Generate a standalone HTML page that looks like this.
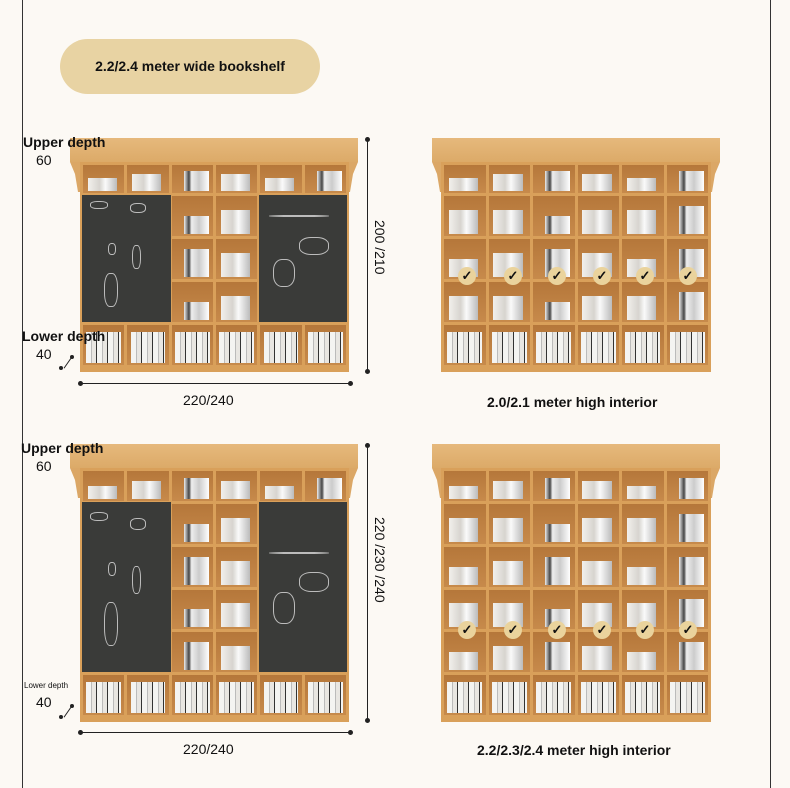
<!DOCTYPE html>
<html><head><meta charset="utf-8"><style>
*{margin:0;padding:0;box-sizing:border-box}
body{width:790px;height:788px;background:#fcf9f4;position:relative;overflow:hidden;font-family:"Liberation Sans",sans-serif;color:#111}
.vl{position:absolute;top:0;width:1px;height:788px;background:#333}
.pill{position:absolute;left:60px;top:39px;width:260px;height:55px;border-radius:28px;background:#e8d3a3;font-weight:bold;font-size:14px;line-height:55px;text-align:center}
.t{position:absolute;font-size:14px;white-space:nowrap}
.b{font-weight:bold}
.crown{position:absolute;height:24px;background:linear-gradient(#e6b97c,#dcaa68);}
.body{position:absolute;display:grid;grid-template-columns:repeat(6,1fr);gap:3px;padding:3px 3px 7px 3px;background:#d9a05a}
.body b{display:block;background:linear-gradient(#b5773a,#c78a4b);position:relative;overflow:hidden}
.body b::after{content:"";position:absolute;left:12%;right:18%;bottom:2px;height:60%;background:linear-gradient(90deg,#f2f0ec,#d7d4cf 40%,#fafafa 60%,#bbb);}
.body b:nth-child(3n)::after{left:30%;right:10%;height:70%;background:linear-gradient(90deg,#eee,#444 20%,#eee 30%,#ccc 60%,#fff)}
.body b:nth-child(4n+1)::after{height:45%}
.body b:nth-last-child(-n+6)::after{left:8%;right:8%;height:78%;background:repeating-linear-gradient(90deg,#f4f4f2 0 5px,#bbb 5px 6px,#e8e6e2 6px 10px,#333 10px 11px)}
.chalk{position:absolute;background:#3a3b39}
.chalk i{position:absolute;border:1px solid #ddd;border-radius:40%;opacity:.8}
.crown::before,.crown::after{content:"";position:absolute;top:24px;width:10px;height:30px;background:#dba766}
.crown::before{left:0;clip-path:polygon(0 0,100% 0,100% 100%,80% 100%,50% 40%)}
.crown::after{right:0;clip-path:polygon(0 0,100% 0,50% 40%,20% 100%,0 100%)}
.dl{position:absolute;background:#222}
.dot{position:absolute;width:5px;height:5px;border-radius:50%;background:#222}
.ck{position:absolute;width:18px;height:18px;border-radius:50%;background:#ead39c;font-size:13px;line-height:18px;text-align:center;font-weight:bold;color:#111}
.rot{position:absolute;transform:rotate(90deg);transform-origin:left top;font-size:14px;white-space:nowrap}
</style></head><body>
<div class="vl" style="left:22px"></div><div class="vl" style="left:770px"></div>
<div class="pill">2.2/2.4 meter wide bookshelf</div>

<div class="crown" style="left:70px;top:138px;width:288px"></div>
<div class="body" style="left:80px;top:162px;width:269px;height:210px;grid-template-rows:28px 1fr 1fr 1fr 40px">
<b></b><b></b><b></b><b></b><b></b><b></b><b></b><b></b><b></b><b></b><b></b><b></b><b></b><b></b><b></b><b></b><b></b><b></b><b></b><b></b><b></b><b></b><b></b><b></b><b></b><b></b><b></b><b></b><b></b><b></b></div>
<div class="chalk" style="left:82px;top:195px;width:89px;height:127px"><i style="left:8px;top:6px;width:18px;height:8px"></i><i style="left:48px;top:8px;width:16px;height:10px"></i><i style="left:26px;top:48px;width:8px;height:12px"></i><i style="left:50px;top:50px;width:9px;height:24px"></i><i style="left:22px;top:78px;width:14px;height:34px"></i></div>
<div class="chalk" style="left:259px;top:195px;width:88px;height:127px"><i style="left:10px;top:20px;width:60px;height:1px"></i><i style="left:40px;top:42px;width:30px;height:18px"></i><i style="left:14px;top:64px;width:22px;height:28px"></i></div>

<div class="crown" style="left:432px;top:138px;width:288px"></div>
<div class="body" style="left:441px;top:162px;width:270px;height:210px;grid-template-rows:28px 1fr 1fr 1fr 40px">
<b></b><b></b><b></b><b></b><b></b><b></b><b></b><b></b><b></b><b></b><b></b><b></b><b></b><b></b><b></b><b></b><b></b><b></b><b></b><b></b><b></b><b></b><b></b><b></b><b></b><b></b><b></b><b></b><b></b><b></b></div>

<div class="crown" style="left:70px;top:444px;width:288px"></div>
<div class="body" style="left:80px;top:468px;width:269px;height:254px;grid-template-rows:30px 1fr 1fr 1fr 1fr 40px">
<b></b><b></b><b></b><b></b><b></b><b></b><b></b><b></b><b></b><b></b><b></b><b></b><b></b><b></b><b></b><b></b><b></b><b></b><b></b><b></b><b></b><b></b><b></b><b></b><b></b><b></b><b></b><b></b><b></b><b></b><b></b><b></b><b></b><b></b><b></b><b></b></div>
<div class="chalk" style="left:82px;top:502px;width:89px;height:170px"><i style="left:8px;top:10px;width:18px;height:9px"></i><i style="left:48px;top:16px;width:16px;height:12px"></i><i style="left:26px;top:60px;width:8px;height:14px"></i><i style="left:50px;top:64px;width:9px;height:28px"></i><i style="left:22px;top:100px;width:14px;height:44px"></i></div>
<div class="chalk" style="left:259px;top:502px;width:88px;height:170px"><i style="left:10px;top:50px;width:60px;height:1px"></i><i style="left:40px;top:70px;width:30px;height:20px"></i><i style="left:14px;top:90px;width:22px;height:32px"></i></div>

<div class="crown" style="left:432px;top:444px;width:288px"></div>
<div class="body" style="left:441px;top:468px;width:270px;height:254px;grid-template-rows:30px 1fr 1fr 1fr 1fr 40px">
<b></b><b></b><b></b><b></b><b></b><b></b><b></b><b></b><b></b><b></b><b></b><b></b><b></b><b></b><b></b><b></b><b></b><b></b><b></b><b></b><b></b><b></b><b></b><b></b><b></b><b></b><b></b><b></b><b></b><b></b><b></b><b></b><b></b><b></b><b></b><b></b></div>

<div class="ck" style="left:458px;top:267px">✓</div><div class="ck" style="left:504px;top:267px">✓</div><div class="ck" style="left:548px;top:267px">✓</div><div class="ck" style="left:593px;top:267px">✓</div><div class="ck" style="left:636px;top:267px">✓</div><div class="ck" style="left:679px;top:267px">✓</div>
<div class="ck" style="left:458px;top:621px">✓</div><div class="ck" style="left:504px;top:621px">✓</div><div class="ck" style="left:548px;top:621px">✓</div><div class="ck" style="left:593px;top:621px">✓</div><div class="ck" style="left:636px;top:621px">✓</div><div class="ck" style="left:679px;top:621px">✓</div>

<div class="dl" style="left:367px;top:139px;width:1px;height:233px"></div>
<div class="dot" style="left:365px;top:137px"></div><div class="dot" style="left:365px;top:369px"></div>
<div class="rot" style="left:388px;top:220px">200 /210</div>
<div class="dl" style="left:80px;top:383px;width:270px;height:1px"></div>
<div class="dot" style="left:78px;top:381px"></div><div class="dot" style="left:348px;top:381px"></div>
<div class="t" style="left:183px;top:392px">220/240</div>
<div class="t b" style="left:23px;top:134px">Upper depth</div>
<div class="t" style="left:36px;top:152px">60</div>
<div class="t b" style="left:22px;top:328px">Lower depth</div>
<div class="t" style="left:36px;top:346px">40</div>
<div class="dl" style="left:61px;top:362px;width:14px;height:1px;transform:rotate(-55deg)"></div>
<div class="dot" style="left:59px;top:366px;width:4px;height:4px"></div><div class="dot" style="left:70px;top:355px;width:4px;height:4px"></div>
<div class="t b" style="left:487px;top:394px">2.0/2.1 meter high interior</div>

<div class="dl" style="left:367px;top:445px;width:1px;height:275px"></div>
<div class="dot" style="left:365px;top:443px"></div><div class="dot" style="left:365px;top:718px"></div>
<div class="rot" style="left:388px;top:517px">220 /230 /240</div>
<div class="dl" style="left:80px;top:732px;width:270px;height:1px"></div>
<div class="dot" style="left:78px;top:730px"></div><div class="dot" style="left:348px;top:730px"></div>
<div class="t" style="left:183px;top:741px">220/240</div>
<div class="t b" style="left:21px;top:440px">Upper depth</div>
<div class="t" style="left:36px;top:458px">60</div>
<div class="t" style="left:24px;top:681px;font-size:8px">Lower depth</div>
<div class="t" style="left:36px;top:694px">40</div>
<div class="dl" style="left:61px;top:711px;width:14px;height:1px;transform:rotate(-55deg)"></div>
<div class="dot" style="left:59px;top:715px;width:4px;height:4px"></div><div class="dot" style="left:70px;top:704px;width:4px;height:4px"></div>
<div class="t b" style="left:477px;top:742px">2.2/2.3/2.4 meter high interior</div>
</body></html>
